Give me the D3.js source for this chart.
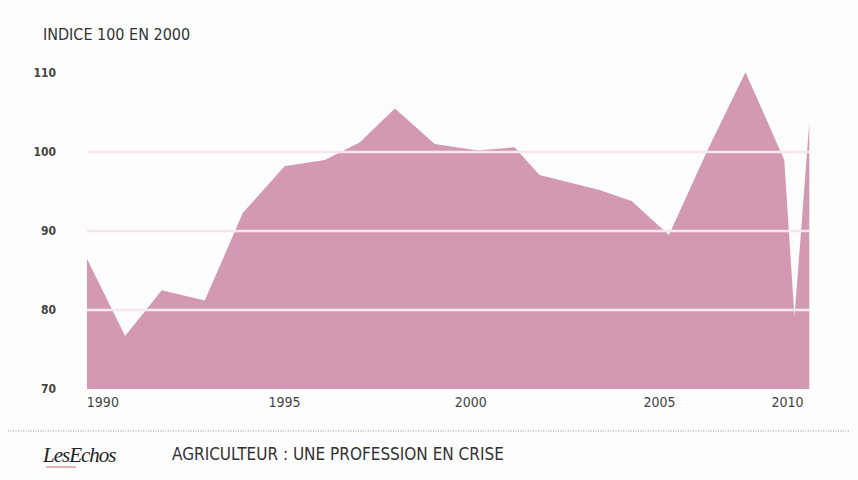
<!DOCTYPE html>
<html lang="fr">
<head>
<meta charset="UTF-8">
<script src="https://d3js.org/d3.v7.min.js"></script>
<style>
  body { margin: 0; background: #fdfdfd; }
  text { font-family: "Liberation Sans Narrow", "DejaVu Sans Condensed", sans-serif; }
</style>
</head>
<body>
<svg width="858" height="480"></svg>
<script>
// données (indice 100 en 2000)
const years = [1990.0, 1991.08, 1992.12, 1993.34, 1994.42, 1995.6, 1996.74, 1997.73, 1998.73, 1999.86,
               2001.08, 2002.12, 2002.83, 2004.53, 2005.44, 2006.5, 2007.6, 2008.67, 2009.77, 2010.06, 2010.48];
const values = [86.5, 76.7, 82.5, 81.2, 92.3, 98.2, 99, 101.2, 105.5, 101,
                100.2, 100.6, 97.1, 95.2, 93.8, 89.5, 100.3, 110.1, 99, 79.1, 103.7];
const yTicks = [70, 80, 90, 100, 110];
const gridLines = [80, 90, 100];
const xTickLabels = ["1990", "1995", "2000", "2005", "2010"];
const xTickPos = [1990.45, 1995.6, 2000.88, 2006.23, 2009.86];

const svg = d3.select("svg");
const x = d3.scaleLinear().domain([1990, 2010.5]).range([87, 810]);
const y = d3.scaleLinear().domain([70, 110]).range([389, 73]);
const data = years.map((d, i) => ({ year: d, value: values[i] }));

// titre
svg.append("text").attr("x", 43).attr("y", 40)
  .attr("font-size", 16).attr("fill", "#333").text("INDICE 100 EN 2000");

// aire
const area = d3.area().x(d => x(d.year)).y0(y(70)).y1(d => y(d.value));
svg.append("path").datum(data).attr("d", area).attr("fill", "#d398b2");

// lignes blanches
svg.selectAll(".grid").data(gridLines).enter().append("line")
  .attr("x1", x(1990)).attr("x2", x(2010.5))
  .attr("y1", d => y(d)).attr("y2", d => y(d))
  .attr("stroke", "#f6e6ee").attr("stroke-width", 2.5);

// étiquettes y
svg.selectAll(".ytick").data(yTicks).enter().append("text")
  .attr("x", 56).attr("y", d => y(d) + 4).attr("text-anchor", "end")
  .attr("font-size", 12).attr("font-weight", "bold").attr("fill", "#444")
  .text(d => d);

// étiquettes x
svg.selectAll(".xtick").data(xTickLabels).enter().append("text")
  .attr("x", (d, i) => x(xTickPos[i])).attr("y", 407).attr("text-anchor", "middle")
  .attr("font-size", 14).attr("fill", "#444").text(d => d);

// pied de page
svg.append("line").attr("x1", 8).attr("x2", 850).attr("y1", 431).attr("y2", 431)
  .attr("stroke", "#999").attr("stroke-dasharray", "1,1.5");
svg.append("text").attr("x", 43).attr("y", 462)
  .style("font-family", "'Liberation Serif', serif").attr("font-style", "italic")
  .attr("font-size", 21).attr("fill", "#222").attr("letter-spacing", -1).text("LesEchos");
svg.append("line").attr("x1", 46).attr("x2", 76).attr("y1", 467).attr("y2", 467)
  .attr("stroke", "#c66").attr("stroke-width", 1);
svg.append("text").attr("x", 172).attr("y", 460)
  .attr("font-size", 17).attr("fill", "#333").text("AGRICULTEUR : UNE PROFESSION EN CRISE");
</script>
</body>
</html>
